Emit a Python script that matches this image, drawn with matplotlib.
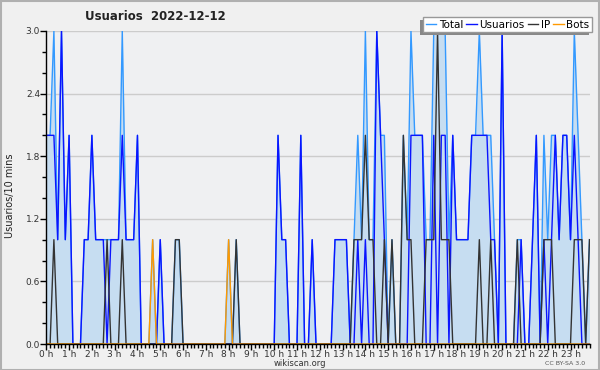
import numpy as np
import matplotlib
matplotlib.use("Agg")
import matplotlib.pyplot as plt
import matplotlib.ticker as ticker
from matplotlib.patches import Rectangle

# one value every 10 minutes, 144 points for the day
total = [2, 2, 3, 1, 3, 1, 2, 0, 0, 0,
         1, 1, 2, 1, 1, 1, 1, 1, 1, 1,
         3, 1, 1, 1, 2, 0, 0, 0, 1, 0,
         1, 0, 0, 0, 1, 1, 0, 0, 0, 0,
         0, 0, 0, 0, 0, 0, 0, 0, 1, 0,
         1, 0, 0, 0, 0, 0, 0, 0, 0, 0,
         0, 2, 1, 1, 0, 0, 0, 2, 0, 0,
         1, 0, 0, 0, 0, 0, 1, 1, 1, 1,
         0, 1, 2, 1, 3, 1, 1, 3, 2, 2,
         0, 1, 0, 0, 2, 1, 3, 2, 2, 2,
         1, 1, 3, 3, 3, 3, 1, 2, 1, 1,
         1, 1, 2, 2, 3, 2, 2, 2, 1, 0,
         3, 0, 0, 0, 1, 1, 0, 0, 1, 2,
         0, 2, 1, 2, 2, 1, 2, 2, 1, 3,
         2, 1, 0, 1]
usuarios = [2, 2, 2, 1, 3, 1, 2, 0, 0, 0,
            1, 1, 2, 1, 1, 1, 0, 1, 1, 1,
            2, 1, 1, 1, 2, 0, 0, 0, 0, 0,
            1, 0, 0, 0, 0, 0, 0, 0, 0, 0,
            0, 0, 0, 0, 0, 0, 0, 0, 0, 0,
            0, 0, 0, 0, 0, 0, 0, 0, 0, 0,
            0, 2, 1, 1, 0, 0, 0, 2, 0, 0,
            1, 0, 0, 0, 0, 0, 1, 1, 1, 1,
            0, 0, 1, 0, 1, 0, 0, 3, 2, 1,
            0, 0, 0, 0, 0, 0, 2, 2, 2, 2,
            0, 0, 2, 0, 2, 2, 0, 2, 1, 1,
            1, 1, 2, 2, 2, 2, 2, 1, 1, 0,
            3, 0, 0, 0, 0, 1, 0, 0, 1, 2,
            0, 1, 0, 1, 2, 1, 2, 2, 1, 2,
            1, 0, 0, 0]
ip = [0, 0, 1, 0, 0, 0, 0, 0, 0, 0,
      0, 0, 0, 0, 0, 0, 1, 0, 0, 0,
      1, 0, 0, 0, 0, 0, 0, 0, 0, 0,
      0, 0, 0, 0, 1, 1, 0, 0, 0, 0,
      0, 0, 0, 0, 0, 0, 0, 0, 0, 0,
      1, 0, 0, 0, 0, 0, 0, 0, 0, 0,
      0, 0, 0, 0, 0, 0, 0, 0, 0, 0,
      0, 0, 0, 0, 0, 0, 0, 0, 0, 0,
      0, 1, 1, 1, 2, 1, 1, 0, 0, 1,
      0, 1, 0, 0, 2, 1, 1, 0, 0, 0,
      1, 1, 1, 3, 1, 1, 1, 0, 0, 0,
      0, 0, 0, 0, 1, 0, 0, 1, 0, 0,
      0, 0, 0, 0, 1, 0, 0, 0, 0, 0,
      0, 1, 1, 1, 0, 0, 0, 0, 0, 1,
      1, 1, 0, 1]
bots = [0] * 144
bots[28] = 1
bots[48] = 1

hour_labels = ["%d h" % h for h in range(24)]

c_total = "#3399ff"
c_fill = "#c6ddf1"
c_users = "#0a14ff"
c_ip = "#333333"
c_bots = "#ff9900"

fig = plt.figure(figsize=(6, 3.7), dpi=100, facecolor="#f0f0f0")
ax = fig.add_axes([46.3 / 600, 1 - 344 / 370, (589.5 - 46.3) / 600, (344 - 31) / 370])
ax.set_facecolor("#eff0f2")

x = np.arange(len(total))
ax.fill_between(x, 0, total, color=c_fill, lw=0, zorder=1)
l1, = ax.plot(x, total, color=c_total, lw=1, zorder=3, label="Total")
l2, = ax.plot(x, usuarios, color=c_users, lw=1, zorder=4, label="Usuarios")
l3, = ax.plot(x, ip, color=c_ip, lw=1, zorder=5, label="IP")
l4, = ax.plot(x, bots, color=c_bots, lw=1, zorder=6, label="Bots")

ax.set_xlim(0, 143)
ax.set_ylim(0, 3)
ax.set_xticks(np.arange(0, 144, 6))
ax.set_xticklabels(hour_labels)
ax.xaxis.set_minor_locator(ticker.MultipleLocator(1))
ax.set_yticks(np.arange(0, 3.01, 0.6))
ax.yaxis.set_major_formatter(ticker.FormatStrFormatter("%.1f"))
ax.yaxis.set_minor_locator(ticker.MultipleLocator(0.2))
ax.tick_params(axis="both", which="major", labelsize=6.5, length=4, width=1,
               colors="black", labelcolor="#333333", pad=0.5)
ax.tick_params(axis="both", which="minor", length=3, width=1)
ax.grid(axis="y", which="major", color="#cccccc", lw=1, zorder=0)
ax.set_axisbelow(True)
for s in ["top", "right"]:
    ax.spines[s].set_visible(False)
for s in ["left", "bottom"]:
    ax.spines[s].set_linewidth(1)
    ax.spines[s].set_zorder(7)

fig.text(85 / 600, 1 - 17 / 370, "Usuarios  2022-12-12", fontsize=8.5,
         fontweight="bold", color="#222222", va="center", ha="left")
fig.text(10 / 600, 0.47, "Usuarios/10 mins", fontsize=7, rotation=90,
         va="center", ha="center", color="#222222")
fig.text(300 / 600, 1 - 363.5 / 370, "wikiscan.org", fontsize=6,
         va="center", ha="center", color="#333333")
fig.text(565 / 600, 1 - 363.5 / 370, "CC BY-SA 3.0", fontsize=4.5,
         va="center", ha="center", color="#555555")

leg = fig.legend(handles=[l1, l2, l3, l4], ncol=4, loc="upper right",
                 bbox_to_anchor=(592 / 600, 1 - 17 / 370), fontsize=7.5,
                 handlelength=1.0, handletextpad=0.25, columnspacing=0.3,
                 borderpad=0.25, borderaxespad=0, frameon=True, fancybox=False,
                 framealpha=1, facecolor="white", edgecolor="#999999")
leg.set_zorder(10)

# gray shadow down-left of the legend box
fig.canvas.draw()
bb = leg.get_window_extent().transformed(fig.transFigure.inverted())
fig.patches.append(Rectangle((bb.x0 - 3 / 600, bb.y0 - 3 / 370), bb.width, bb.height,
                             transform=fig.transFigure, facecolor="#888888",
                             edgecolor="none", zorder=9))

# thin frame around the whole image
fig.patches.append(Rectangle((0.001, 0.001), 0.997, 0.996, transform=fig.transFigure,
                             fill=False, edgecolor="#b0b0b0", lw=1.5, zorder=20))

fig.savefig("out.png", dpi=100, facecolor=fig.get_facecolor())
